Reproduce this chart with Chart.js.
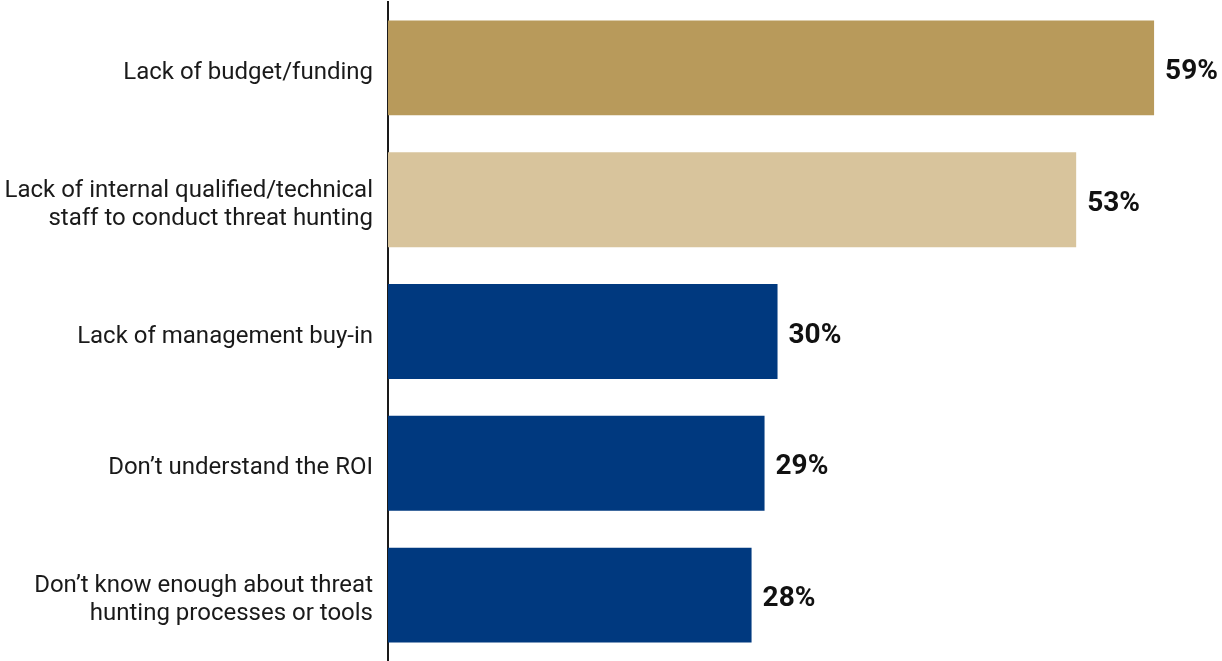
<!DOCTYPE html>
<html>
<head>
<meta charset="utf-8">
<script src="https://cdn.jsdelivr.net/npm/chart.js@4"></script>
<style>
  html, body { margin: 0; padding: 0; background: #fff; }
  #wrap { width: 1222px; height: 661px; }
</style>
</head>
<body>
<div id="wrap"><canvas id="c"></canvas></div>
<script>
// Barriers to threat hunting (share of respondents)
const categories = [
  ["Lack of budget/funding"],
  ["Lack of internal qualified/technical", "staff to conduct threat hunting"],
  ["Lack of management buy-in"],
  ["Don\u2019t understand the ROI"],
  ["Don\u2019t know enough about threat", "hunting processes or tools"]
];
const values = [59, 53, 30, 29, 28];
const barColors = ["#B89A5B", "#D8C49C", "#00397F", "#00397F", "#00397F"];

const FONT = "Roboto, 'Liberation Sans', sans-serif";

// Draws the percentage just past the end of each bar
const valueLabels = {
  id: "valueLabels",
  afterDatasetsDraw(chart) {
    const ctx = chart.ctx;
    const meta = chart.getDatasetMeta(0);
    ctx.save();
    ctx.font = "bold 28px " + FONT;
    ctx.fillStyle = "#111";
    ctx.textAlign = "left";
    ctx.textBaseline = "middle";
    meta.data.forEach((bar, i) => {
      ctx.fillText(values[i] + "%", bar.x + 11, bar.y + 4);
    });
    ctx.restore();
  }
};

new Chart(document.getElementById("c"), {
  type: "bar",
  data: {
    labels: categories,
    datasets: [{
      data: values,
      backgroundColor: barColors,
      borderWidth: 0,
      barPercentage: 0.72,
      categoryPercentage: 1
    }]
  },
  options: {
    indexAxis: "y",
    responsive: true,
    maintainAspectRatio: false,
    animation: false,
    layout: { padding: { top: 2, right: 3, bottom: 0, left: 0 } },
    plugins: { legend: { display: false }, tooltip: { enabled: false } },
    scales: {
      x: {
        display: false,
        min: 0,
        max: 64
      },
      y: {
        grid: { display: false, drawTicks: false },
        border: { display: true, color: "#1a1a1a", width: 2 },
        ticks: {
          color: "#1a1a1a",
          padding: 15,
          labelOffset: 5,
          font: { family: FONT, size: 24, lineHeight: 1.17 }
        },
        afterFit(scale) {
          scale.width = 388;
          scale.paddingTop = 0;
          scale.paddingBottom = 0;
        }
      }
    }
  },
  plugins: [valueLabels]
});
</script>
</body>
</html>
